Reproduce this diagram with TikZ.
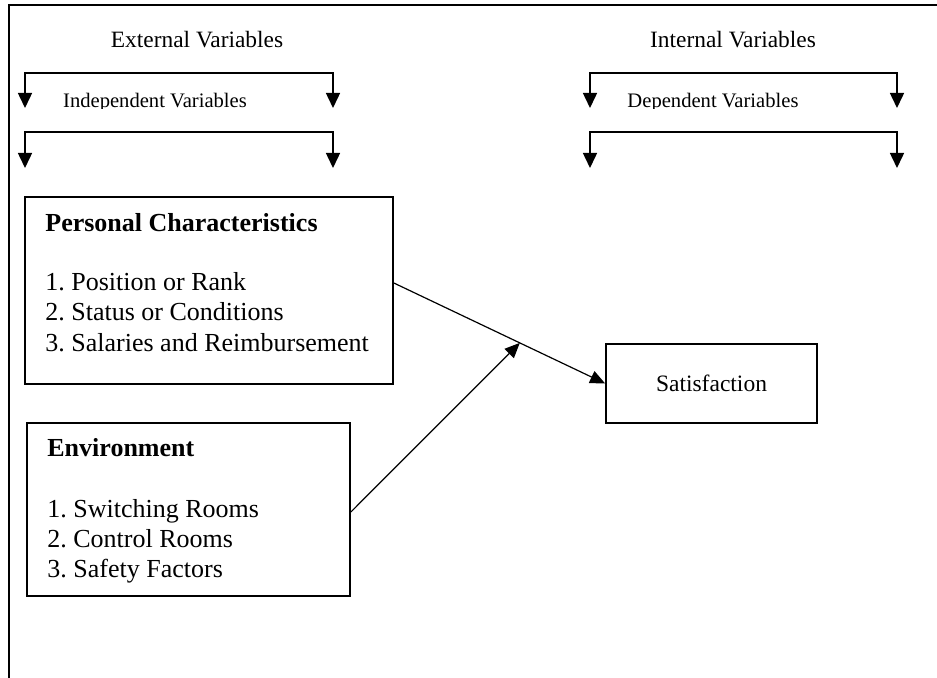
\documentclass[tikz,border=0pt]{standalone}
\usepackage{fontspec}
\setmainfont{Liberation Serif}
\usetikzlibrary{arrows.meta,calc}
\frenchspacing
\tikzset{
  frameline/.style={line width=1pt},
  brline/.style={line width=0.75pt,{Triangle[length=7.5pt,width=7pt]}-{Triangle[length=7.5pt,width=7pt]}},
  conn/.style={line width=0.6pt},
  connarrow/.style={line width=0.6pt,-{Triangle[length=7.5pt,width=6.5pt]}},
  box/.style={draw,line width=0.85pt,rectangle,inner sep=0pt},
  head/.style={anchor=base,inner sep=0pt,font=\fontsize{11.7}{14}\selectfont},
  sub/.style={anchor=base,inner sep=0pt,font=\fontsize{10.3}{12}\selectfont},
  boxtitle/.style={anchor=base west,inner sep=0pt,font=\fontsize{13}{15}\selectfont\bfseries},
  item/.style={anchor=base west,inner sep=0pt,font=\fontsize{13}{15}\selectfont},
}
\begin{document}
\begin{tikzpicture}[x=0.5pt,y=-0.5pt]
\useasboundingbox (0,0) rectangle (937,678);
% outer frame (top and left edges)
\coordinate (fb) at (9,678);
\coordinate (fc) at (9,5);
\coordinate (fr) at (937,5);
\draw[frameline] (fb) -- (fc) -- (fr);

% headers
\node[head] (ext) at (197,48) {External Variables};
\node[head] (int) at (733,48) {Internal Variables};

% brackets
\coordinate (e1l) at (25,108);  \coordinate (e1r) at (333,108);
\coordinate (e2l) at (25,168);  \coordinate (e2r) at (333,168);
\coordinate (i1l) at (590,108); \coordinate (i1r) at (897,108);
\coordinate (i2l) at (590,168); \coordinate (i2r) at (897,168);
\draw[brline] (e1l) -- (25,73) -- (333,73) -- (e1r);
\draw[brline] (e2l) -- (25,132) -- (333,132) -- (e2r);
\draw[brline] (i1l) -- (590,73) -- (897,73) -- (i1r);
\draw[brline] (i2l) -- (590,132) -- (897,132) -- (i2r);

% sub headers (bottom clipped as in the reference)
\begin{scope}
\clip (0,60) rectangle (937,109);
\node[sub] (indep) at (155,108) {Independent Variables};
\node[sub] (dep) at (713,108) {Dependent Variables};
\end{scope}

% Personal characteristics box
\node[box,minimum width=184pt,minimum height=93.5pt] (pc) at (209,290.5) {};
\node[boxtitle] (pct) at (45,232) {Personal Characteristics};
\node[item] (pc1) at (45,291) {1. Position or Rank};
\node[item] (pc2) at (45,321) {2. Status or Conditions};
\node[item] (pc3) at (45,352) {3. Salaries and Reimbursement};

% Environment box
\node[box,minimum width=161.5pt,minimum height=86.5pt] (env) at (188.5,509.5) {};
\node[boxtitle] (envt) at (47,457) {Environment};
\node[item] (env1) at (47,517) {1. Switching Rooms};
\node[item] (env2) at (47,547) {2. Control Rooms};
\node[item] (env3) at (47,577) {3. Safety Factors};

% Satisfaction box
\node[box,minimum width=105.5pt,minimum height=39.5pt,font=\fontsize{11.75}{14}\selectfont] (sat) at (711.5,383.5) {Satisfaction};

% connectors
\coordinate (p1) at ([yshift=3.75pt]pc.east);
\draw[connarrow] (p1) -- (sat.west);
\coordinate (j) at ($(p1)!0.596!(sat.west)$);
\draw[connarrow] ([yshift=-1.25pt]env.east) -- (j);
\end{tikzpicture}
\end{document}
